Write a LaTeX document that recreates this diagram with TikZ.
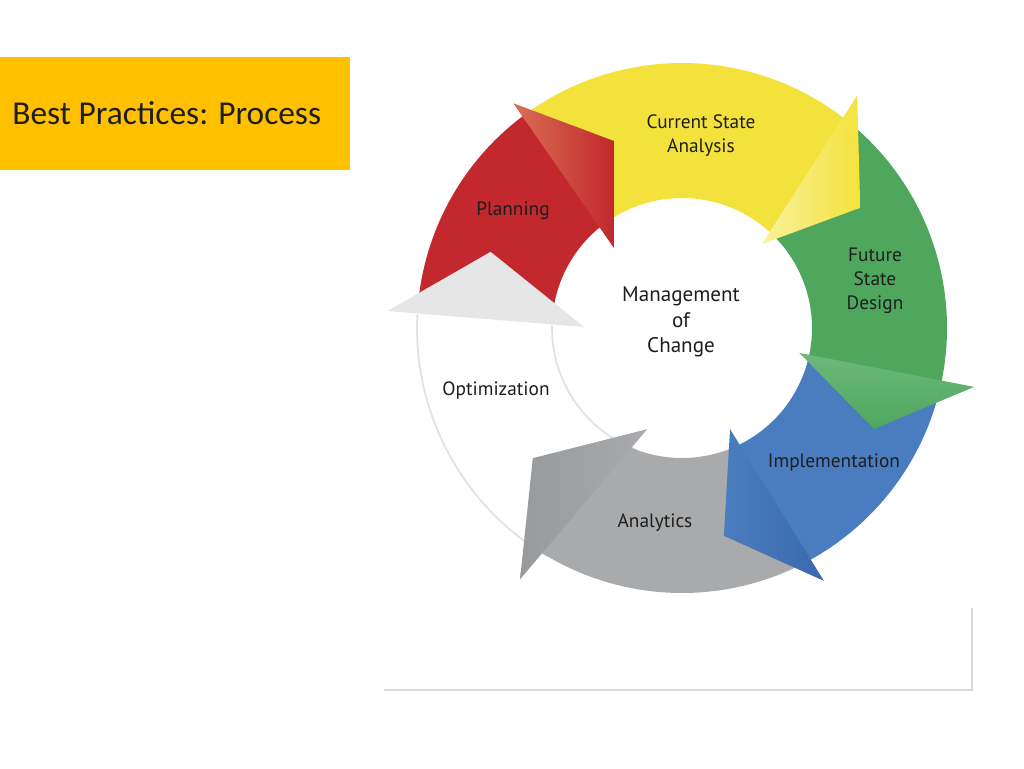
\documentclass[tikz,border=0pt]{standalone}
\usepackage{fontspec}
\setmainfont{PT Sans}
\newfontfamily\titlefont{Carlito}
\usetikzlibrary{positioning}
\definecolor{titlebg}{HTML}{FFC000}
\definecolor{planred}{HTML}{C2282D}
\definecolor{planredlt}{HTML}{DA6E55}
\definecolor{curyel}{HTML}{F4E23C}
\definecolor{curyellt}{HTML}{F9F19C}
\definecolor{futgreen}{HTML}{4FA75D}
\definecolor{futgreenlt}{HTML}{6DB97B}
\definecolor{impblue}{HTML}{4A7DC0}
\definecolor{impbluedk}{HTML}{3A68AE}
\definecolor{anagray}{HTML}{A8AAAC}
\definecolor{anagraydk}{HTML}{989B9E}
\definecolor{optgray}{HTML}{E6E6E6}
\definecolor{rimgray}{HTML}{E2E2E2}
\definecolor{textdark}{HTML}{1E1E1E}
\definecolor{framegray}{HTML}{D9D9D9}
\tikzset{
  seglabel/.style={font=\fontsize{11pt}{13.7pt}\selectfont, text=textdark, align=center, inner sep=0pt},
  rim/.style={rimgray, line width=1pt},
}

\begin{document}
\begin{tikzpicture}[x=0.02cm, y=0.02cm]
\useasboundingbox (0,0) rectangle (1024,768);
% title box
\fill[titlebg] (0,598) rectangle (350,711);
\node[anchor=west, font=\titlefont\fontsize{19pt}{22pt}\selectfont, text=textdark, inner sep=0pt] (title) at (12,655) {Best Practices: Process};
% frame lines bottom right
\coordinate (framel) at (384,78);
\coordinate (framec) at (972,78);
\coordinate (framet) at (972,160);
\draw[framegray, line width=0.8pt] (framel) -- (framec) -- (framet);

\begin{scope}[shift={(682,440)}]
  % optimization rim
  \draw[rim] (239.6:265) arc[start angle=239.6, end angle=177.1, radius=265];
  \draw[rim] (249.3:130) arc[start angle=249.3, end angle=179, radius=130];
  % segment bodies: colour / start out / start in / end out / end in
  \foreach \col/\so/\si/\eo/\ei in {planred/175.85/177.4/126/126.8,
      curyel/126/128.3/50.1/45.1, futgreen/51.6/46.6/-14/-13.8,
      impblue/-12.45/-12.9/-63.4/-66.2, anagray/-61.9/-64.7/-125/-115}
    \fill[\col] (\so:265) arc[start angle=\so, end angle=\eo, radius=265]
      -- (\ei:130) arc[start angle=\ei, end angle=\si, radius=130] -- cycle;
  % arrow heads: light / dark / shading angle / outer / tip / inner
  \foreach \lt/\dk/\ang/\po/\pt/\pin in {optgray/optgray/90/176.7:295/158.3:206/179.4:98,
      planredlt/planred/90/126.9:281/110:199/130.4:105,
      curyellt/curyel/90/53:291/34:215/46.4:116,
      futgreenlt/futgreen/0/-11.4:298/-27.7:217/-12:120,
      impblue/impbluedk/90/-60.7:290/-78.6:212/-64.6:112,
      anagraydk/anagray/90/-122.8:299/-138.9:198/-109:107}
    \shade[left color=\lt, right color=\dk, shading angle=\ang] (\po) -- (\pt) -- (\pin) -- cycle;
\end{scope}

% labels
\node[seglabel] (current) at (701,632) {Current State\\Analysis};
\node[seglabel] (planning) at (513,557) {Planning};
\node[seglabel] (future) at (875,487) {Future\\State\\Design};
\node[seglabel, font=\fontsize{12pt}{14.5pt}\selectfont] (moc) at (681,446) {Management\\of\\Change};
\node[seglabel] (optim) at (496,377) {Optimization};
\node[seglabel] (implem) at (834,305) {Implementation};
\node[seglabel] (analyt) at (655,245) {Analytics};
\end{tikzpicture}
\end{document}
